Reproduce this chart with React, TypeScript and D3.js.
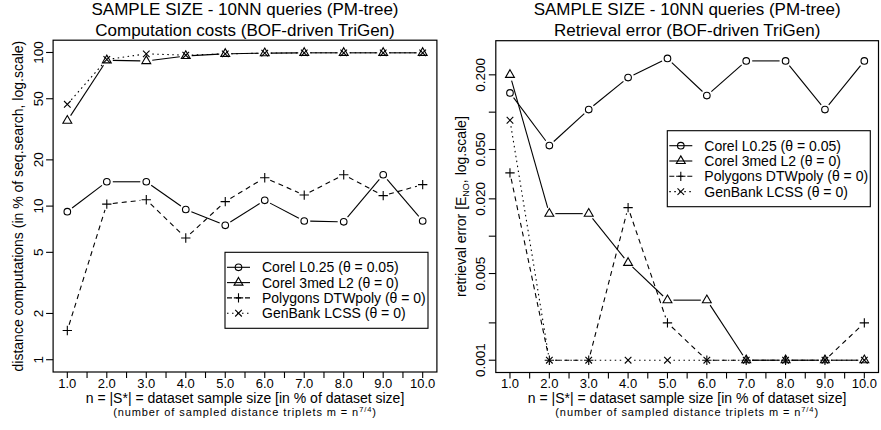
import React from 'react';
import * as d3 from 'd3';

// ---------- data ----------
const xValues = [1, 2, 3, 4, 5, 6, 7, 8, 9, 10];
const xTickValues = [1, 1.5, 2, 2.5, 3, 3.5, 4, 4.5, 5, 5.5, 6, 6.5, 7, 7.5, 8, 8.5, 9, 9.5, 10];
const xTickLabels = ['1.0', '2.0', '3.0', '4.0', '5.0', '6.0', '7.0', '8.0', '9.0', '10.0'];

const seriesNames = [
  'Corel L0.25 (θ = 0.05)',
  'Corel 3med L2 (θ = 0)',
  'Polygons DTWpoly (θ = 0)',
  'GenBank LCSS (θ = 0)',
];

// left panel: computation costs (% of seq. search)
const costCorelL025 = [9.2, 14.4, 14.4, 9.5, 7.5, 10.9, 8.0, 7.9, 16.0, 8.0];
const costCorel3med = [36, 89, 88, 95, 98, 99, 99.5, 99.5, 99.5, 99.5];
const costPolygons = [1.55, 10.3, 11.0, 6.2, 10.7, 15.3, 11.8, 16.0, 11.7, 13.8];
const costGenBank = [46, 90, 98, 96, 98, 99, 99.5, 99.5, 99.5, 99.5];
const costYLim = [1, 100];
const costYTicks = [1, 2, 5, 10, 20, 50, 100];
const costYTickLabels = ['1', '2', '5', '10', '20', '50', '100'];

// right panel: retrieval error
const errCorelL025 = [0.143, 0.0538, 0.105, 0.19, 0.271, 0.136, 0.259, 0.259, 0.105, 0.259];
const errCorel3med = [0.2, 0.0152, 0.0152, 0.0061, 0.00305, 0.00305, 0.001, 0.001, 0.001, 0.001];
const errPolygons = [0.0324, 0.001, 0.001, 0.017, 0.002, 0.001, 0.001, 0.001, 0.001, 0.002];
const errGenBank = [0.0861, 0.001, 0.001, 0.001, 0.001, 0.001, 0.001, 0.001, 0.001, 0.001];
const errYLim = [0.001, 0.3];
const errYTicks = [0.001, 0.002, 0.005, 0.01, 0.02, 0.05, 0.1, 0.2];
const errYTickLabels = ['0.001', '', '0.005', '', '0.020', '0.050', '', '0.200'];

const FONT = '"Liberation Sans", Arial, Helvetica, sans-serif';

type Style = { dash: string | undefined; marker: string };
const styles: Style[] = [
  { dash: undefined, marker: 'circle' },
  { dash: undefined, marker: 'triangle' },
  { dash: '5,4', marker: 'plus' },
  { dash: '1.5,3.5', marker: 'cross' },
];

const S = 3.3;
function Marker({ type, cx, cy }: { type: string; cx: number; cy: number }) {
  const common = { fill: 'none', stroke: '#000', strokeWidth: 1.1 };
  if (type === 'circle') return <circle cx={cx} cy={cy} r={S} {...common} />;
  if (type === 'triangle') {
    const r = 1.555 * S;
    const hw = (r * Math.sqrt(3)) / 2;
    const yc = r / 2;
    return <polygon points={`${cx},${cy - r} ${cx + hw},${cy + yc} ${cx - hw},${cy + yc}`} {...common} />;
  }
  if (type === 'plus') {
    const h = Math.SQRT2 * S;
    return <path d={`M${cx - h},${cy}H${cx + h}M${cx},${cy - h}V${cy + h}`} {...common} />;
  }
  const h = S;
  return <path d={`M${cx - h},${cy - h}L${cx + h},${cy + h}M${cx - h},${cy + h}L${cx + h},${cy - h}`} {...common} />;
}

type PanelProps = {
  x0: number; x1: number; yTop: number; yBottom: number;
  ylim: number[]; yTicks: number[]; yTickLabels: string[];
  data: number[][];
  title2: string;
  ylabel: React.ReactNode;
  legend: { x: number; y: number };
};

function Panel(p: PanelProps) {
  const xs = d3.scaleLinear().domain([0.64, 10.36]).range([p.x0, p.x1]);
  const l0 = Math.log10(p.ylim[0]);
  const l1 = Math.log10(p.ylim[1]);
  const pad = (l1 - l0) * 0.04;
  const ys = d3.scaleLog().domain([Math.pow(10, l0 - pad), Math.pow(10, l1 + pad)]).range([p.yBottom, p.yTop]);
  const cx = (p.x0 + p.x1) / 2;
  const cy = (p.yTop + p.yBottom) / 2;
  const gap = 6;

  const segs = (vals: number[]) => {
    const pts = vals.map((v, i) => [xs(xValues[i]), ys(v)]);
    const out: string[] = [];
    for (let i = 0; i < pts.length - 1; i++) {
      const [ax, ay] = pts[i];
      const [bx, by] = pts[i + 1];
      const dx = bx - ax, dy = by - ay;
      const L = Math.hypot(dx, dy);
      if (L <= 2 * gap) continue;
      const ux = dx / L, uy = dy / L;
      out.push(`M${ax + ux * gap},${ay + uy * gap}L${bx - ux * gap},${by - uy * gap}`);
    }
    return out;
  };

  return (
    <g>
      {/* titles */}
      <text x={cx} y={15} textAnchor="middle" fontSize={17} fontFamily={FONT}>SAMPLE SIZE - 10NN queries (PM-tree)</text>
      <text x={cx} y={35.5} textAnchor="middle" fontSize={17} fontFamily={FONT}>{p.title2}</text>

      {/* series */}
      {p.data.map((vals, si) => (
        <g key={si}>
          {segs(vals).map((d, k) => (
            <path key={k} d={d} fill="none" stroke="#000" strokeWidth={1.1} strokeDasharray={styles[si].dash} />
          ))}
          {vals.map((v, i) => (
            <Marker key={i} type={styles[si].marker} cx={xs(xValues[i])} cy={ys(v)} />
          ))}
        </g>
      ))}

      {/* frame */}
      <rect x={p.x0} y={p.yTop} width={p.x1 - p.x0} height={p.yBottom - p.yTop} fill="none" stroke="#000" strokeWidth={1.2} />

      {/* x axis */}
      {xTickValues.map((t) => (
        <line key={t} x1={xs(t)} x2={xs(t)} y1={p.yBottom} y2={p.yBottom + 6} stroke="#000" strokeWidth={1.1} />
      ))}
      {xValues.map((t, i) => (
        <text key={t} x={xs(t)} y={387.5} textAnchor="middle" fontSize={13} fontFamily={FONT}>{xTickLabels[i]}</text>
      ))}
      <text x={cx} y={403} textAnchor="middle" fontSize={14} fontFamily={FONT}>
        n = |S*| = dataset sample size [in % of dataset size]
      </text>
      <text x={cx} y={416} textAnchor="middle" fontSize={11} letterSpacing={0.9} fontFamily={FONT}>
        (number of sampled distance triplets m = n<tspan dy={-4} fontSize={7.5}>7/4</tspan><tspan dy={4}>)</tspan>
      </text>

      {/* y axis */}
      {p.yTicks.map((t, i) => (
        <g key={t}>
          <line x1={p.x0 - 7} x2={p.x0} y1={ys(t)} y2={ys(t)} stroke="#000" strokeWidth={1.1} />
          {p.yTickLabels[i] && (
            <text transform={`translate(${p.x0 - 10.5},${ys(t)}) rotate(-90)`} textAnchor="middle" fontSize={13.5} fontFamily={FONT}>
              {p.yTickLabels[i]}
            </text>
          )}
        </g>
      ))}
      <text transform={`translate(${p.x0 - 30},${cy}) rotate(-90)`} textAnchor="middle" fontSize={14} fontFamily={FONT}>
        {p.ylabel}
      </text>

      {/* legend */}
      <rect x={p.legend.x} y={p.legend.y} width={203} height={76} fill="#fff" stroke="#000" strokeWidth={1.1} />
      {seriesNames.map((name, i) => {
        const ly = p.legend.y + 15 + i * 15.3;
        return (
          <g key={name}>
            <line x1={p.legend.x + 2} x2={p.legend.x + 25} y1={ly} y2={ly} stroke="#000" strokeWidth={1.1} strokeDasharray={styles[i].dash} />
            <Marker type={styles[i].marker} cx={p.legend.x + 13.5} cy={ly} />
            <text x={p.legend.x + 37} y={ly + 5} fontSize={14} fontFamily={FONT}>{name}</text>
          </g>
        );
      })}
    </g>
  );
}

export default function App() {
  return (
    <svg width={881} height={430} style={{ position: 'absolute', left: 0, top: 0, background: '#fff' }}>
      <rect width={881} height={430} fill="#fff" />
      <Panel
        x0={53.1} x1={436.9} yTop={40.2} yBottom={372}
        ylim={costYLim} yTicks={costYTicks} yTickLabels={costYTickLabels}
        data={[costCorelL025, costCorel3med, costPolygons, costGenBank]}
        title2="Computation costs (BOF-driven TriGen)"
        ylabel="distance computations (in % of seq.search, log.scale)"
        legend={{ x: 225, y: 252.3 }}
      />
      <Panel
        x0={495.8} x1={878.5} yTop={40.7} yBottom={372.5}
        ylim={errYLim} yTicks={errYTicks} yTickLabels={errYTickLabels}
        data={[errCorelL025, errCorel3med, errPolygons, errGenBank]}
        title2="Retrieval error (BOF-driven TriGen)"
        ylabel={<>retrieval error [E<tspan dy={3} fontSize={9}>NO</tspan><tspan dy={-3}>, log.scale]</tspan></>}
        legend={{ x: 667.3, y: 130.7 }}
      />
    </svg>
  );
}
